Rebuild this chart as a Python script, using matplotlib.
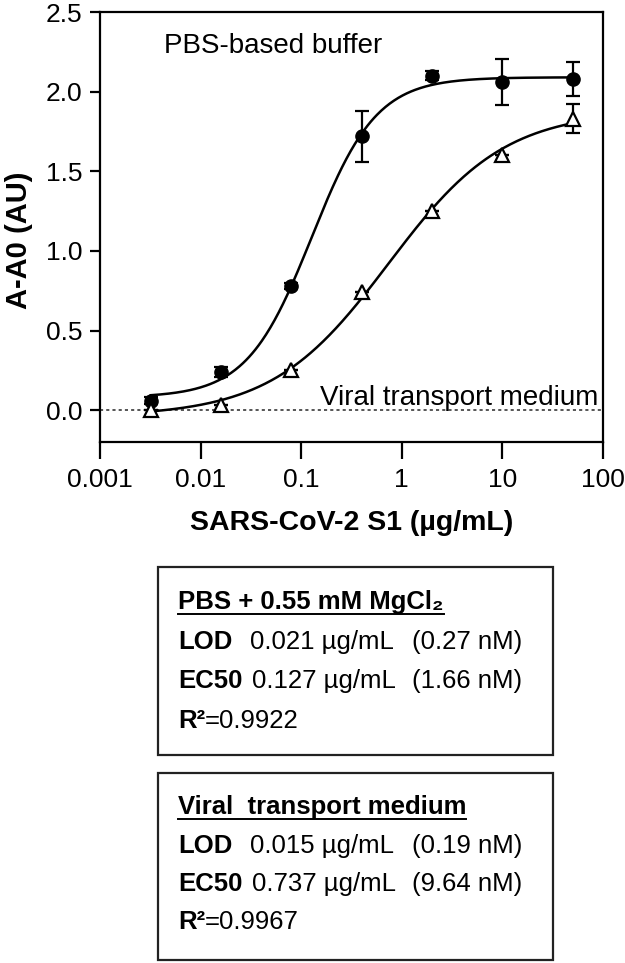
import numpy as np
import matplotlib
matplotlib.use('Agg')
import matplotlib.pyplot as plt
from matplotlib.patches import Rectangle
from matplotlib.lines import Line2D
from matplotlib.ticker import NullLocator

plt.rcParams['font.family'] = ['Liberation Sans', 'DejaVu Sans']

# Concentrations of SARS-CoV-2 S1 (ug/mL)
conc = [0.0032, 0.016, 0.08, 0.4, 2, 10, 50]

# PBS-based buffer (filled circles)
pbs_mean = [0.06, 0.24, 0.78, 1.72, 2.10, 2.06, 2.08]
pbs_err = [0.02, 0.03, 0.02, 0.16, 0.03, 0.145, 0.105]

# Viral transport medium (open triangles)
vtm_mean = [0.00, 0.03, 0.25, 0.74, 1.25, 1.60, 1.83]
vtm_err = [0.0, 0.0, 0.0, 0.0, 0.0, 0.0, 0.09]

# 4PL fit parameters: bottom, top, EC50, hill slope
pbs_fit = [0.08, 2.09, 0.127, 1.35]
vtm_fit = [-0.04, 1.88, 0.737, 0.75]

xticks = [0.001, 0.01, 0.1, 1, 10, 100]
xtick_labels = ['0.001', '0.01', '0.1', '1', '10', '100']
yticks = [0.0, 0.5, 1.0, 1.5, 2.0, 2.5]
ytick_labels = ['0.0', '0.5', '1.0', '1.5', '2.0', '2.5']

box_titles = ['PBS + 0.55 mM MgCl\u2082', 'Viral  transport medium']
box_lod = ['0.021 \u00b5g/mL', '0.015 \u00b5g/mL']
box_lod_nm = ['(0.27 nM)', '(0.19 nM)']
box_ec50 = ['0.127 \u00b5g/mL', '0.737 \u00b5g/mL']
box_ec50_nm = ['(1.66 nM)', '(9.64 nM)']
box_r2 = ['=0.9922', '=0.9967']


def four_pl(x, bottom, top, ec50, hill):
    return bottom + (top - bottom) / (1 + (ec50 / x) ** hill)


W, H = 625, 963
fig = plt.figure(figsize=(W / 100, H / 100), dpi=100)


def fx(px):
    return px / W


def fy(py):
    return 1 - py / H


ax = fig.add_axes([fx(100), fy(442), fx(603) - fx(100), fy(12) - fy(442)])
ax.set_xscale('log')
ax.set_xlim(1e-3, 1e2)
ax.set_ylim(-0.2, 2.5)

# zero baseline
ax.axhline(0, color='#555555', lw=1.4, ls=(0, (1.6, 1.6)), zorder=1)

# fitted curves
xs = np.logspace(np.log10(conc[0]), np.log10(conc[-1]), 400)
ax.plot(xs, four_pl(xs, *pbs_fit), color='black', lw=1.8, zorder=2)
ax.plot(xs, four_pl(xs, *vtm_fit), color='black', lw=1.8, zorder=2)

# error bars
ax.errorbar(conc, pbs_mean, yerr=pbs_err, fmt='none', ecolor='black',
            elinewidth=1.6, capsize=5, capthick=1.6, zorder=3)
ax.errorbar(conc, vtm_mean, yerr=vtm_err, fmt='none', ecolor='black',
            elinewidth=1.6, capsize=5, capthick=1.6, zorder=3)

# markers
ax.plot(conc, pbs_mean, 'o', ms=9.5, color='black', zorder=5)
ax.plot(conc, vtm_mean, '^', ms=9.5, mfc='white', mec='black', mew=1.6, zorder=5)

ax.set_xticks(xticks)
ax.set_xticklabels(xtick_labels)
ax.xaxis.set_minor_locator(NullLocator())
ax.set_yticks(yticks)
ax.set_yticklabels(ytick_labels)

for s in ax.spines.values():
    s.set_linewidth(1.6)
ax.tick_params(axis='y', length=7.5, width=1.6, pad=5, labelsize=19)
ax.tick_params(axis='x', length=12, width=1.6, pad=7, labelsize=19)

ax.set_xlabel('SARS-CoV-2 S1 (\u00b5g/mL)', fontsize=20.5, fontweight='bold')
ax.xaxis.set_label_coords(0.5, (442 - 523) / 430)
ax.xaxis.label.set_va('center')
ax.set_ylabel('A-A0 (AU)', fontsize=21, fontweight='bold')
ax.yaxis.set_label_coords((19 - 100) / 503, 0.47)
ax.yaxis.label.set_va('center')

ax.text(64 / 503, (442 - 53) / 430, 'PBS-based buffer', transform=ax.transAxes,
        fontsize=20, ha='left', va='baseline')
ax.text(0.99, (442 - 405) / 430, 'Viral transport medium', transform=ax.transAxes,
        fontsize=20, ha='right', va='baseline')

# info boxes
box_tops = [567, 773]
box_bottoms = [755, 960]
title_base = [609, 814]
lod_base = [649, 853]
ec50_base = [688, 891]
r2_base = [728, 929]
fs = 18.5

fig.canvas.draw()
renderer = fig.canvas.get_renderer()

for i in range(2):
    rect = Rectangle((fx(158), fy(box_bottoms[i])), fx(553) - fx(158),
                     fy(box_tops[i]) - fy(box_bottoms[i]), transform=fig.transFigure,
                     fill=False, edgecolor='#222222', lw=1.6)
    fig.add_artist(rect)

    t = fig.text(fx(178), fy(title_base[i]), box_titles[i], fontsize=fs,
                 fontweight='bold', va='baseline', ha='left')
    bb = t.get_window_extent(renderer)
    fig.add_artist(Line2D([fx(178), fx(178) + bb.width / W],
                          [fy(title_base[i] + 5)] * 2, transform=fig.transFigure,
                          color='black', lw=1.4))

    fig.text(fx(178), fy(lod_base[i]), 'LOD', fontsize=fs, fontweight='bold', va='baseline')
    fig.text(fx(250), fy(lod_base[i]), box_lod[i], fontsize=fs, va='baseline')
    fig.text(fx(412), fy(lod_base[i]), box_lod_nm[i], fontsize=fs, va='baseline')

    fig.text(fx(178), fy(ec50_base[i]), 'EC50', fontsize=fs, fontweight='bold', va='baseline')
    fig.text(fx(252), fy(ec50_base[i]), box_ec50[i], fontsize=fs, va='baseline')
    fig.text(fx(412), fy(ec50_base[i]), box_ec50_nm[i], fontsize=fs, va='baseline')

    r = fig.text(fx(178), fy(r2_base[i]), 'R\u00b2', fontsize=fs, fontweight='bold', va='baseline')
    rb = r.get_window_extent(renderer)
    fig.text(fx(178) + rb.width / W, fy(r2_base[i]), box_r2[i], fontsize=fs, va='baseline')

fig.savefig('out.png', dpi=100)
